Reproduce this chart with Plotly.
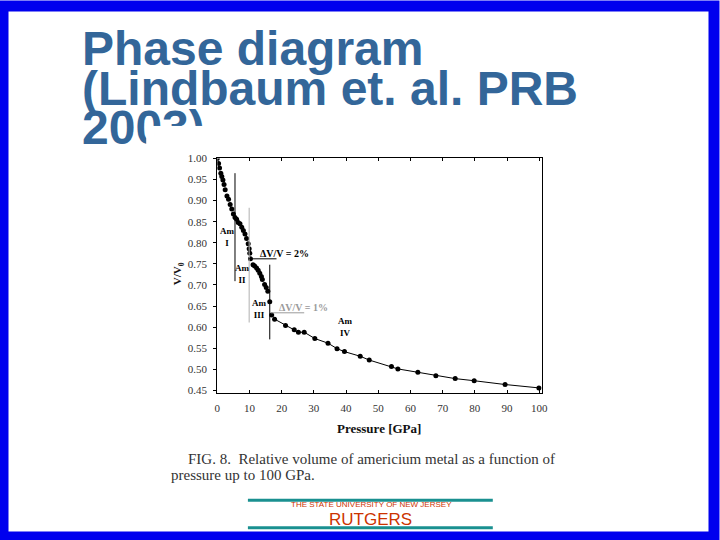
import plotly.graph_objects as go

W, H = 720, 540

# ---------------- data ----------------
p_phase1 = [0.0, 0.4, 0.7, 1.1, 1.4, 1.75, 2.1, 2.45, 3.0, 3.5, 4.0, 4.5, 5.0, 5.5,
            6.0, 6.5, 7.05, 7.6, 8.1, 8.6, 9.1, 9.6, 9.9]
v_phase1 = [1.000, 0.988, 0.977, 0.965, 0.957, 0.949, 0.938, 0.926, 0.911, 0.903, 0.891,
            0.880, 0.868, 0.860, 0.856, 0.848, 0.845, 0.837, 0.829, 0.821, 0.810, 0.798, 0.786]

p_phase2 = [10.1, 10.3, 11.1, 11.6, 12.2, 12.7, 13.2, 13.7, 14.0, 14.7, 15.2, 15.7]
v_phase2 = [0.775, 0.762, 0.748, 0.745, 0.740, 0.735, 0.728, 0.720, 0.713, 0.701, 0.694, 0.685]

p_phase3 = [16.3, 16.9]
v_phase3 = [0.660, 0.629]

p_phase4 = [17.8, 21.2, 23.9, 25.2, 27.0, 30.3, 34.4, 37.2, 39.5, 44.4, 47.2, 54.1, 56.1,
            62.3, 67.9, 73.9, 79.8, 89.4, 99.9]
v_phase4 = [0.619, 0.604, 0.594, 0.588, 0.588, 0.573, 0.562, 0.549, 0.542, 0.531, 0.522,
            0.507, 0.501, 0.493, 0.485, 0.478, 0.473, 0.464, 0.456]

x_ticks = [0, 10, 20, 30, 40, 50, 60, 70, 80, 90, 100]
y_ticks = [1.00, 0.95, 0.90, 0.85, 0.80, 0.75, 0.70, 0.65, 0.60, 0.55, 0.50, 0.45]
y_tick_labels = ["1.00", "0.95", "0.90", "0.85", "0.80", "0.75", "0.70", "0.65",
                 "0.60", "0.55", "0.50", "0.45"]

boundary_p = [5.5, 9.9, 16.3]
boundary_v_top = [0.965, 0.883, 0.748]
boundary_v_bottom = [0.709, 0.611, 0.571]
boundary_colors = ["#000000", "#b0b0b0", "#000000"]

jump_labels = ["ΔV/V = 2%", "ΔV/V = 1%"]
jump_p_start = [9.8, 16.6]
jump_p_end = [18.4, 27.0]
jump_v = [0.762, 0.634]
jump_colors = ["#000000", "#9a9a9a"]
jump_label_p = [12.6, 18.4]
jump_label_v = [0.774, 0.647]

phase_labels = ["Am<br>I", "Am<br>II", "Am<br>III", "Am<br>IV"]
phase_label_p = [3.1, 7.7, 13.2, 39.9]
phase_label_v = [0.814, 0.727, 0.643, 0.601]

title_lines = ["Phase diagram", "(Lindbaum et. al. PRB", "2003)"]
caption_lines = ["FIG. 8.  Relative volume of americium metal as a function of",
                 "pressure up to 100 GPa."]
logo_small = "THE STATE UNIVERSITY OF NEW JERSEY"
logo_big = "RUTGERS"


def fx(px):
    return px / W


def fy(py):
    return 1 - py / H


fig = go.Figure()

# ---- subplot 1: slide background with title text ----
fig.add_trace(go.Scatter(
    x=[80, 80, 80], y=[48, 88, 128], text=title_lines, mode="text",
    textposition="middle right", cliponaxis=False,
    textfont=dict(family="Liberation Sans", size=48, color="#336699", weight="bold"),
    xaxis="x", yaxis="y", hoverinfo="skip"))

# ---- subplot 2: white picture area that hides part of the title ----
fig.add_trace(go.Scatter(x=[], y=[], xaxis="x2", yaxis="y2", hoverinfo="skip"))

# ---- subplot 3: the chart ----
marker_style = dict(color="black", size=5, symbol="circle")
fig.add_trace(go.Scatter(x=p_phase1, y=v_phase1, mode="markers", marker=marker_style,
                         xaxis="x3", yaxis="y3"))
fig.add_trace(go.Scatter(x=p_phase2, y=v_phase2, mode="markers", marker=marker_style,
                         xaxis="x3", yaxis="y3"))
fig.add_trace(go.Scatter(x=p_phase3, y=v_phase3, mode="markers", marker=marker_style,
                         xaxis="x3", yaxis="y3"))
fig.add_trace(go.Scatter(x=p_phase4, y=v_phase4, mode="lines+markers", marker=marker_style,
                         line=dict(color="black", width=1),
                         xaxis="x3", yaxis="y3"))

shapes = []
for p, vt, vb, c in zip(boundary_p, boundary_v_top, boundary_v_bottom, boundary_colors):
    shapes.append(dict(type="line", xref="x3", yref="y3", x0=p, x1=p, y0=vb, y1=vt,
                       line=dict(color=c, width=1)))
for p0, p1, v, c in zip(jump_p_start, jump_p_end, jump_v, jump_colors):
    shapes.append(dict(type="line", xref="x3", yref="y3", x0=p0, x1=p1, y0=v, y1=v,
                       line=dict(color=c, width=1)))

# slide frame and logo rules
shapes.append(dict(type="rect", xref="paper", yref="paper", x0=0, x1=1, y0=0, y1=1,
                   line=dict(color="#0000ee", width=11)))
for py in [502.5, 530.5]:
    shapes.append(dict(type="line", xref="paper", yref="paper", x0=fx(248), x1=fx(496),
                       y0=fy(py), y1=fy(py), line=dict(color="#1a9090", width=3)))

annotations = []
serif = "Liberation Serif"
for t, p, v in zip(phase_labels, phase_label_p, phase_label_v):
    annotations.append(dict(xref="x3", yref="y3", x=p, y=v, text=t, showarrow=False,
                            xanchor="center", yanchor="middle",
                            font=dict(family=serif, size=9, color="black", weight="bold")))
for t, p, v, c in zip(jump_labels, jump_label_p, jump_label_v, jump_colors):
    annotations.append(dict(xref="x3", yref="y3", x=p, y=v, text=t, showarrow=False,
                            xanchor="left", yanchor="middle",
                            font=dict(family=serif, size=10, color=c, weight="bold")))


def paper_text(text, px, py, size, family, color="#111", weight="normal",
               xanchor="center", angle=0):
    annotations.append(dict(xref="paper", yref="paper", x=fx(px), y=fy(py),
                            text=text, showarrow=False, xanchor=xanchor,
                            yanchor="middle", textangle=angle,
                            font=dict(family=family, size=size, color=color,
                                      weight=weight)))


paper_text("Pressure [GPa]", 381, 430, 13, serif, weight="bold")
paper_text("V/V<sub>0</sub>", 178, 272, 11, serif, weight="bold", angle=-90)
paper_text(caption_lines[0], 185, 461, 15, serif, color="#333", xanchor="left")
paper_text(caption_lines[1], 168, 477, 15, serif, color="#333", xanchor="left")
paper_text(logo_small, 373, 507, 8, "Liberation Sans", color="#cc3300")
paper_text(logo_big, 372, 522, 17, "Liberation Sans", color="#cc3300")

hidden = dict(visible=False, showgrid=False, zeroline=False, fixedrange=True)
tickfont = dict(family=serif, size=11, color="#333")

fig.update_layout(
    width=W, height=H, margin=dict(l=0, r=0, t=0, b=0),
    paper_bgcolor="white", plot_bgcolor="white", showlegend=False, hovermode=False,
    xaxis=dict(domain=[0, 1], range=[0, W], anchor="y", **hidden),
    yaxis=dict(domain=[0, 1], range=[H, 0], anchor="x", **hidden),
    xaxis2=dict(domain=[fx(145), fx(560)], range=[0, 1], anchor="y2", **hidden),
    yaxis2=dict(domain=[fy(487), fy(122)], range=[0, 1], anchor="x2", **hidden),
    xaxis3=dict(domain=[fx(217), fx(545.7)], range=[0, 100.83], anchor="y3",
                tickvals=x_ticks, ticks="inside", ticklen=3, tickcolor="black",
                showline=True, linecolor="black", linewidth=1, mirror="ticks",
                showgrid=False, zeroline=False, tickfont=tickfont, ticklabelstandoff=5),
    yaxis3=dict(domain=[fy(393.3), fy(155)], range=[0.4445, 1.0], anchor="x3",
                tickvals=y_ticks, ticktext=y_tick_labels, ticks="outside", ticklen=3,
                tickcolor="black", showline=True, linecolor="black", linewidth=1,
                mirror=True, showgrid=False, zeroline=False, tickfont=tickfont,
                ticklabelstandoff=4),
    shapes=shapes, annotations=annotations,
)

fig.write_html("out.html", config={"displayModeBar": False, "staticPlot": True},
               post_script="document.body.style.margin='0';"
                           "document.body.style.overflow='hidden';")
